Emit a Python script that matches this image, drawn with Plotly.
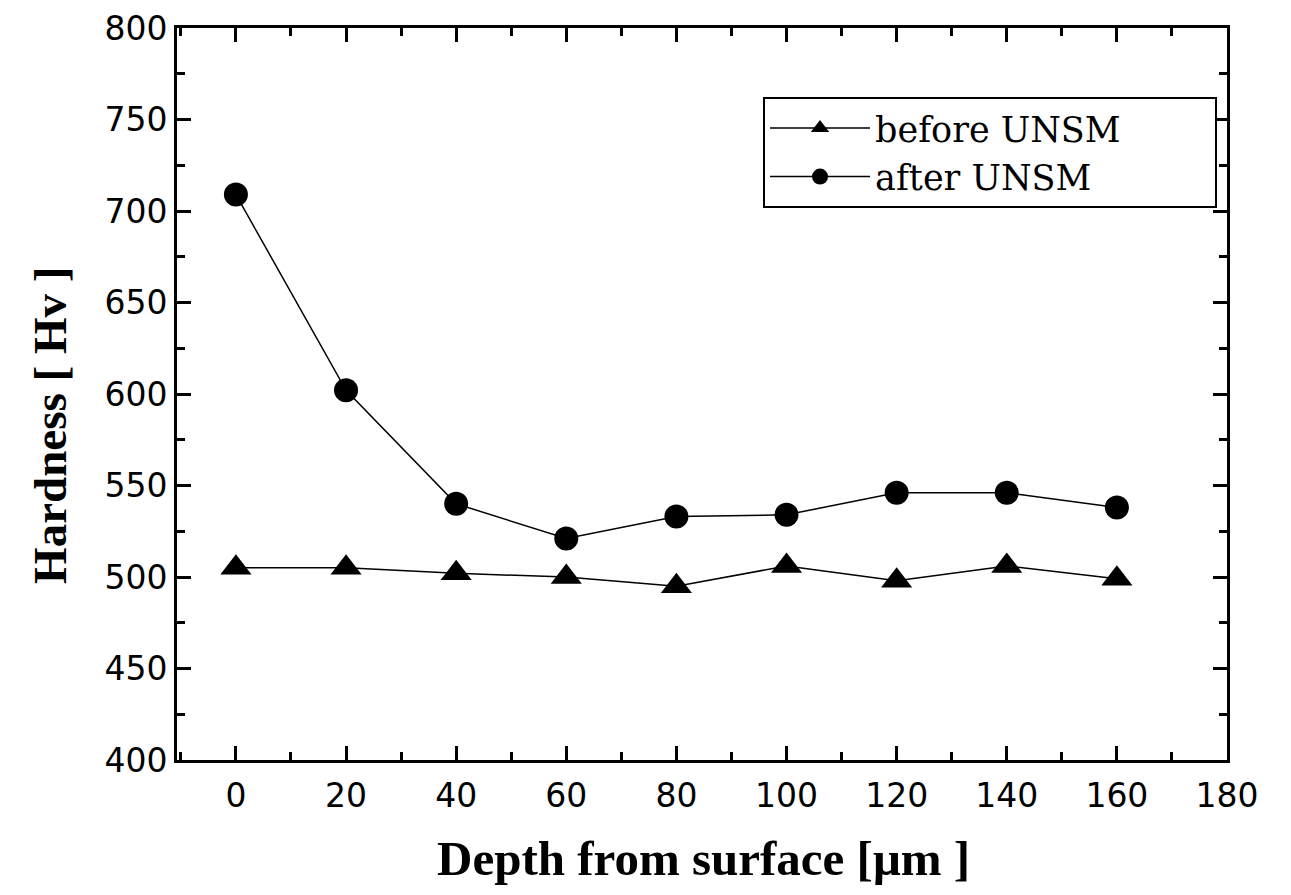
import plotly.graph_objects as go

depth = [0, 20, 40, 60, 80, 100, 120, 140, 160]
before_unsm = [505, 505, 502, 500, 495, 506, 498, 506, 499]
after_unsm = [709, 602, 540, 521, 533, 534, 546, 546, 538]

x_ticks = [0, 20, 40, 60, 80, 100, 120, 140, 160, 180]
y_ticks = [400, 450, 500, 550, 600, 650, 700, 750, 800]

series_names = ["before UNSM", "after UNSM"]
pad = "\u00a0" * 8

fig = go.Figure()
fig.add_trace(go.Scatter(
    x=depth, y=before_unsm, mode="lines+markers", name=series_names[0] + pad,
    line=dict(color="black", width=1.5),
    marker=dict(symbol="triangle-up", size=27, color="black"),
))
fig.add_trace(go.Scatter(
    x=depth, y=after_unsm, mode="lines+markers", name=series_names[1],
    line=dict(color="black", width=1.5),
    marker=dict(symbol="circle", size=24, color="black"),
))

axis_common = dict(
    showline=True, linecolor="black", linewidth=3, mirror="allticks",
    ticks="inside", ticklen=14, tickwidth=3, tickcolor="black",
    showgrid=False, zeroline=False, automargin=False,
    tickfont=dict(family="DejaVu Sans", size=33, color="black"),
)

title_font = dict(family="Liberation Serif", color="black", weight="bold")

fig.update_layout(
    width=1291, height=895,
    paper_bgcolor="white", plot_bgcolor="white",
    margin=dict(l=169, r=72, t=20, b=143, autoexpand=False),
    showlegend=True,
    legend=dict(
        x=0.9905, y=0.906, xanchor="right", yanchor="top",
        bordercolor="black", borderwidth=2, bgcolor="white",
        font=dict(family="DejaVu Serif", size=35, color="black"),
        itemwidth=100, tracegroupgap=0,
    ),
    xaxis=dict(
        range=[-10.7, 180], tickvals=x_ticks,
        ticktext=[str(v) for v in x_ticks],
        ticklabelstandoff=4,
        minor=dict(dtick=10, ticks="inside", ticklen=8, tickwidth=3, tickcolor="black"),
        **axis_common,
    ),
    yaxis=dict(
        range=[400, 800], tickvals=y_ticks,
        ticktext=[str(v) for v in y_ticks],
        minor=dict(dtick=25, ticks="inside", ticklen=8, tickwidth=3, tickcolor="black"),
        **axis_common,
    ),
    annotations=[
        dict(text="Depth from surface [μm ]", xref="paper", yref="paper",
             x=0.501, y=-0.134, xanchor="center", yanchor="middle", showarrow=False,
             font=dict(size=49, **title_font)),
        dict(text="Hardness [ Hv ]", xref="paper", yref="paper", textangle=-90,
             x=-0.121, y=0.4577, xanchor="center", yanchor="middle", showarrow=False,
             font=dict(size=47, **title_font)),
    ],
)

fig.write_html("out.html")
